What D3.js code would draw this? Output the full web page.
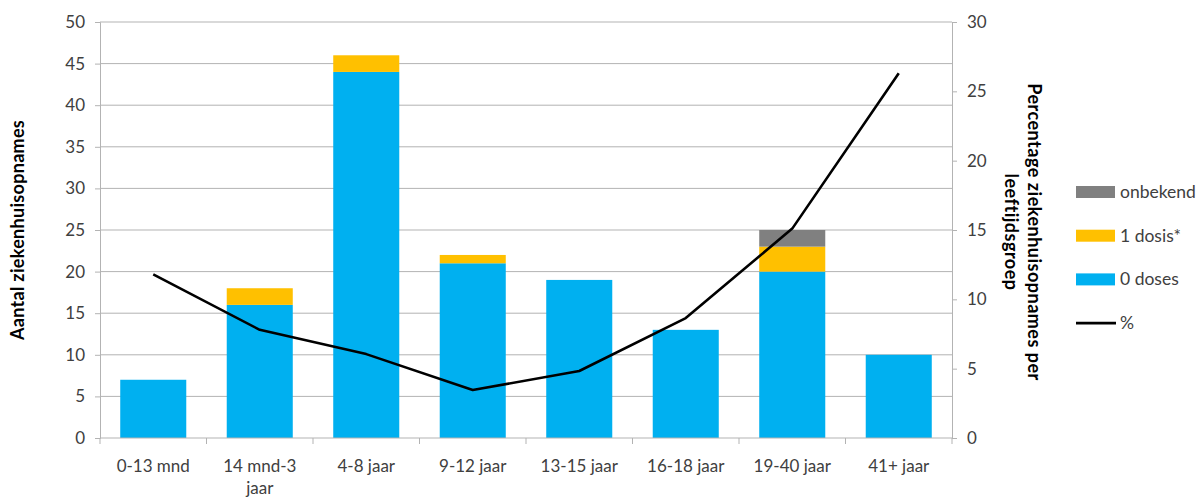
<!DOCTYPE html>
<html>
<head>
<meta charset="utf-8">
<script src="https://cdn.jsdelivr.net/npm/d3@7"></script>
<style>
  body { margin: 0; background: #fff; }
  text { font-family: Lato, "Open Sans", sans-serif; }
</style>
</head>
<body>
<script>
// Data
categories = ["0-13 mnd", "14 mnd-3 jaar", "4-8 jaar", "9-12 jaar", "13-15 jaar", "16-18 jaar", "19-40 jaar", "41+ jaar"];
zeroDoses = [7, 16, 44, 21, 19, 13, 20, 10];
oneDose   = [0, 2, 2, 1, 0, 0, 3, 0];
unknown   = [0, 0, 0, 0, 0, 0, 2, 0];
percent   = [11.8, 7.8, 6.05, 3.46, 4.83, 8.65, 15.1, 26.3];
leftTicks = [0, 5, 10, 15, 20, 25, 30, 35, 40, 45, 50];
rightTicks = [0, 5, 10, 15, 20, 25, 30];

w = 1204;
h = 497;
margin = {top: 22, right: 252, bottom: 59, left: 100};
iw = w - margin.left - margin.right;
ih = h - margin.top - margin.bottom;

svg = d3.select("body")
  .append("svg")
    .attr("width", w)
    .attr("height", h);

g = svg.append("g")
  .attr("transform", "translate(" + margin.left + "," + margin.top + ")");

x = d3.scaleBand().domain(categories).range([0, iw]).paddingInner(0.38).paddingOuter(0.19);
xb = d3.scaleBand().domain(categories).range([0, iw]);
y = d3.scaleLinear().domain([0, 50]).range([ih, 0]);
y2 = d3.scaleLinear().domain([0, 30]).range([ih, 0]);

gridColor = "#b3b3b3";
textColor = "#404040";

// gridlines
g.selectAll(".grid")
  .data(leftTicks.slice(1))
  .enter()
  .append("line")
    .attr("x1", 0).attr("x2", iw)
    .attr("y1", d => y(d)).attr("y2", d => y(d))
    .attr("stroke", gridColor)
    .attr("stroke-width", 1);

// stacked bars
rows = categories.map((c, i) => ({cat: c, zero: zeroDoses[i], one: oneDose[i], unk: unknown[i]}));
stack = d3.stack().keys(["zero", "one", "unk"]);
colors = {zero: "#00b0f0", one: "#ffc000", unk: "#808080"};

g.selectAll(".layer")
  .data(stack(rows))
  .enter()
  .append("g")
    .attr("fill", d => colors[d.key])
  .selectAll("rect")
  .data(d => d)
  .enter()
  .append("rect")
    .attr("x", d => x(d.data.cat))
    .attr("width", x.bandwidth())
    .attr("y", d => y(d[1]))
    .attr("height", d => y(d[0]) - y(d[1]));

// left axis
yAxis = g.append("g")
  .call(d3.axisLeft(y).tickValues(leftTicks).tickSize(5).tickPadding(10));
// right axis
yAxis2 = g.append("g")
  .attr("transform", "translate(" + iw + ",0)")
  .call(d3.axisRight(y2).tickValues(rightTicks).tickSize(5).tickPadding(10));
// bottom axis with ticks on category boundaries
xAxis = g.append("g")
  .attr("transform", "translate(0," + ih + ")");
xAxis.append("line")
  .attr("x1", 0).attr("x2", iw)
  .attr("stroke", gridColor);
xAxis.selectAll(".tk")
  .data(categories.concat(["end"]))
  .enter()
  .append("line")
    .attr("x1", (d, i) => i * xb.step()).attr("x2", (d, i) => i * xb.step())
    .attr("y1", 0).attr("y2", 6)
    .attr("stroke", gridColor);

labels = xAxis.selectAll(".lbl")
  .data(categories)
  .enter()
  .append("text")
    .attr("x", d => xb(d) + xb.bandwidth() / 2)
    .attr("y", 34)
    .attr("text-anchor", "middle")
    .attr("fill", textColor)
    .style("font-size", "17px");
labels.each(function(d) {
  var t = d3.select(this);
  if (d === "14 mnd-3 jaar") {
    t.append("tspan").attr("x", xb(d) + xb.bandwidth() / 2).text("14 mnd-3");
    t.append("tspan").attr("x", xb(d) + xb.bandwidth() / 2).attr("dy", 22).text("jaar");
  } else {
    t.text(d);
  }
});

[yAxis, yAxis2].forEach(a => {
  a.select(".domain").attr("stroke", gridColor);
  a.selectAll(".tick line").attr("stroke", gridColor);
  a.selectAll(".tick text")
    .attr("fill", textColor)
    .style("font-size", "17px")
    .style("font-family", "Lato, sans-serif");
});

// line
line = d3.line()
  .x((d, i) => xb(categories[i]) + xb.bandwidth() / 2)
  .y(d => y2(d));
g.append("path")
  .datum(percent)
  .attr("d", line)
  .attr("fill", "none")
  .attr("stroke", "#000")
  .attr("stroke-width", 2.6)
  .attr("stroke-linejoin", "round");

// axis titles
svg.append("text")
  .attr("transform", "translate(24,230) rotate(-90)")
  .attr("text-anchor", "middle")
  .style("font-size", "18px")
  .style("letter-spacing", "0.3px")
  .style("font-weight", "bold")
  .text("Aantal ziekenhuisopnames");

t2 = svg.append("text")
  .attr("transform", "translate(1028,232) rotate(90)")
  .attr("text-anchor", "middle")
  .style("font-size", "18px")
  .style("letter-spacing", "0.5px")
  .style("font-weight", "bold");
t2.append("tspan").attr("x", 0).attr("y", 0).text("Percentage ziekenhuisopnames per");
t2.append("tspan").attr("x", 0).attr("y", 23).text("leeftijdsgroep");

// legend
legendItems = ["onbekend", "1 dosis*", "0 doses", "%"];
legendColors = ["#808080", "#ffc000", "#00b0f0", "#000"];
leg = svg.append("g").attr("transform", "translate(1076,192)");
items = leg.selectAll(".li")
  .data(legendItems)
  .enter()
  .append("g")
    .attr("transform", (d, i) => "translate(0," + (i * 43.7) + ")");
items.each(function(d, i) {
  var it = d3.select(this);
  if (d === "%") {
    it.append("line").attr("x1", 0).attr("x2", 40).attr("stroke", "#000").attr("stroke-width", 2.6);
  } else {
    it.append("rect").attr("x", 0).attr("y", -6).attr("width", 39).attr("height", 12).attr("fill", legendColors[i]);
  }
});
items.append("text")
  .attr("x", 44)
  .attr("y", 6)
  .attr("fill", textColor)
  .style("font-size", "17.5px")
  .text(d => d);
</script>
</body>
</html>
